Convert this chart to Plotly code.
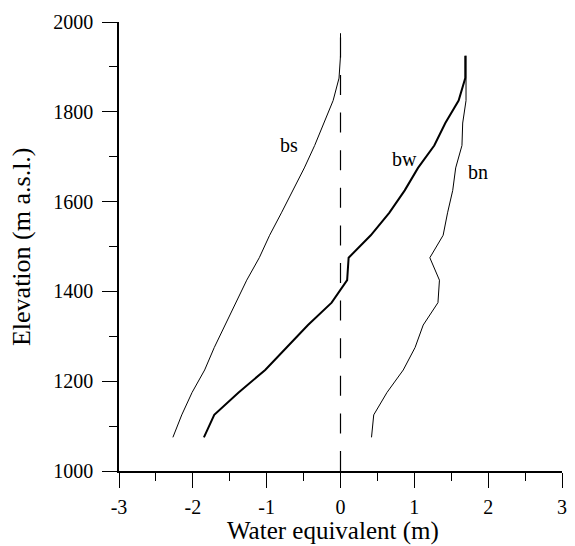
import plotly.graph_objects as go

# Elevation band midpoints (m a.s.l.)
elev = [1075, 1125, 1175, 1225, 1275, 1325, 1375, 1425, 1475,
        1525, 1575, 1625, 1675, 1725, 1775, 1825, 1875, 1925]
elev_bs = elev + [1975]

# Summer balance (m w.e.)
bs = [-2.27, -2.15, -2.01, -1.84, -1.71, -1.56, -1.42, -1.27, -1.10,
      -0.96, -0.80, -0.64, -0.49, -0.35, -0.22, -0.10, -0.02, 0.00, 0.00]
# Winter balance (m w.e.)
bw = [-1.85, -1.71, -1.38, -1.02, -0.73, -0.44, -0.12, 0.09, 0.11,
      0.41, 0.66, 0.87, 1.05, 1.27, 1.42, 1.60, 1.69, 1.69]
# Net balance (m w.e.)
bn = [0.42, 0.45, 0.63, 0.85, 1.01, 1.12, 1.32, 1.34, 1.21,
      1.39, 1.45, 1.52, 1.56, 1.645, 1.655, 1.70, 1.70, 1.70]

# Curve labels
label_text = ["bs", "bw", "bn"]
label_x = [-0.70, 0.86, 1.86]
label_y = [1726, 1694, 1666]

# Axis ticks
x_ticks = [-3, -2, -1, 0, 1, 2, 3]
x_ticktext = ["-3", "-2", "-1", "0", "1", "2", "3"]
x_minor = [-2.5, -1.5, -0.5, 0.5, 1.5, 2.5]
y_ticks = [1000, 1200, 1400, 1600, 1800, 2000]
y_minor = [1100, 1300, 1500, 1700, 1900]

# Zero reference line
zero_x = [0, 0]
zero_y = [1000, 2006]

FONT = "Liberation Serif, Times New Roman, serif"

fig = go.Figure()
fig.add_trace(go.Scatter(x=zero_x, y=zero_y, mode="lines",
                         line=dict(color="black", width=1.2, dash="20px,17.6px"),
                         cliponaxis=False, hoverinfo="skip"))
fig.add_trace(go.Scatter(x=bs, y=elev_bs, mode="lines",
                         line=dict(color="black", width=1), name="bs"))
fig.add_trace(go.Scatter(x=bw, y=elev, mode="lines",
                         line=dict(color="black", width=2), name="bw"))
fig.add_trace(go.Scatter(x=bn, y=elev, mode="lines",
                         line=dict(color="black", width=1), name="bn"))

for t, x, y in zip(label_text, label_x, label_y):
    fig.add_annotation(x=x, y=y, text=t, showarrow=False,
                       font=dict(family=FONT, size=20, color="black"))

axis_common = dict(
    showline=True, linecolor="black", linewidth=1.5,
    ticks="outside", ticklen=15, tickwidth=1.3, tickcolor="black",
    showgrid=False, zeroline=False,
    tickfont=dict(family=FONT, size=20, color="black"),
)

fig.update_xaxes(range=[-3, 3], tickmode="array", tickvals=x_ticks,
                 ticktext=x_ticktext, ticklabelstandoff=2,
                 minor=dict(tickmode="array", tickvals=x_minor, ticklen=8,
                            tickwidth=1.3, tickcolor="black", ticks="outside"),
                 **axis_common)
fig.update_yaxes(range=[1000, 2000], tickmode="array", tickvals=y_ticks,
                 ticklabelstandoff=5,
                 minor=dict(tickmode="array", tickvals=y_minor, ticklen=8,
                            tickwidth=1.3, tickcolor="black", ticks="outside"),
                 **axis_common)

fig.add_annotation(xref="paper", yref="paper", x=0.483, y=-0.133,
                   text="Water equivalent (m)", showarrow=False,
                   yanchor="middle",
                   font=dict(family=FONT, size=25, color="black"))
fig.add_annotation(xref="paper", yref="paper", x=-0.22, y=0.5,
                   text="Elevation (m a.s.l.)", showarrow=False,
                   textangle=-90, xanchor="center",
                   font=dict(family=FONT, size=26, color="black"))

fig.update_layout(
    width=575, height=546,
    margin=dict(l=119, r=8, t=22, b=75),
    paper_bgcolor="white", plot_bgcolor="white",
    showlegend=False,
)

fig.write_html("out.html")
